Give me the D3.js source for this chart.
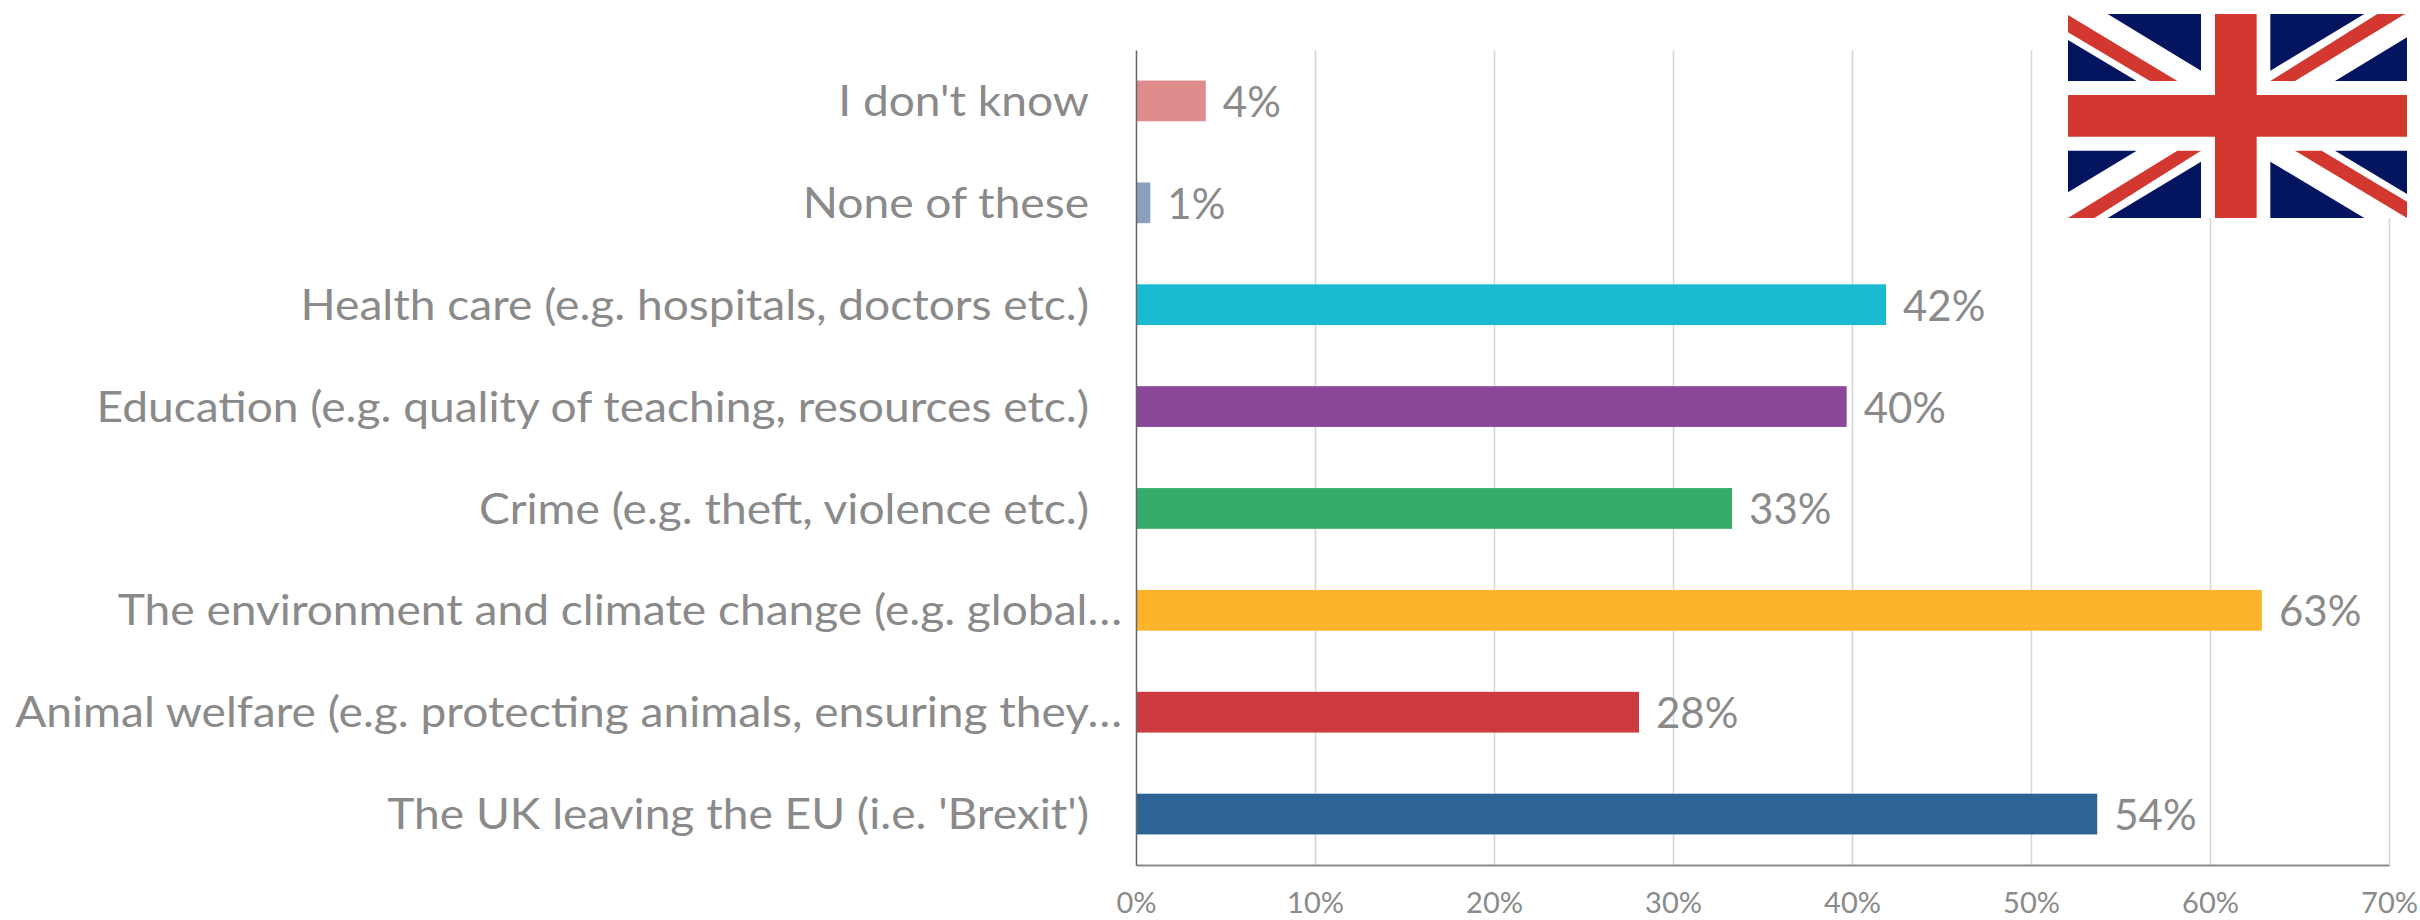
<!DOCTYPE html>
<html>
<head>
<meta charset="utf-8">
<title>UK concerns</title>
<script src="https://cdnjs.cloudflare.com/ajax/libs/d3/7.8.5/d3.min.js"></script>
<style>
  html, body { margin: 0; padding: 0; background: #fff; }
  svg { display: block; }
  text { font-family: Lato, "Open Sans", sans-serif; fill: #8a8a8a; }
</style>
</head>
<body>
<svg class="chart" width="2420" height="920"></svg>
<script>
/* Data, top row first */
var categories = [
  "I don't know",
  "None of these",
  "Health care (e.g. hospitals, doctors etc.)",
  "Education (e.g. quality of teaching, resources etc.)",
  "Crime (e.g. theft, violence etc.)",
  "The environment and climate change (e.g. global…",
  "Animal welfare (e.g. protecting animals, ensuring they…",
  "The UK leaving the EU (i.e. 'Brexit')"
];
var percents = [3.9, 0.8, 41.9, 39.7, 33.3, 62.9, 28.1, 53.7];
var barColors = ["#de8d8c", "#8b9fbf", "#1abbd1", "#8a4699", "#36ac6a", "#fdb42b", "#ce3b3e", "#2c6496"];
var xTicks = [0, 10, 20, 30, 40, 50, 60, 70];

var svg = d3.select(".chart"),
    margin = {top: 50, right: 31, bottom: 55, left: 1136},
    width = +svg.attr("width") - margin.left - margin.right,
    height = +svg.attr("height") - margin.top - margin.bottom;

var x = d3.scaleLinear().domain([0, 70]).range([0, width]),
    y = d3.scaleBand().domain(categories).range([0, height]).paddingInner(0.6).paddingOuter(0.3);

/* the reference labels are a stretched Calibri, Lato needs widening to match */
var labelStretch = 1.098;

var g = svg.append("g")
    .attr("transform", "translate(" + margin.left + "," + margin.top + ")");

/* gridlines go under the bars */
g.append("g")
    .attr("class", "grid")
    .attr("transform", "translate(0," + height + ")")
    .call(d3.axisBottom(x).tickValues(xTicks.slice(1)).tickSize(-height).tickFormat(""))
    .call(function(s) {
      s.select(".domain").remove();
      s.selectAll("line").attr("stroke", "#d6d6d6").attr("stroke-width", 1.5);
    });

g.selectAll(".bar")
    .data(categories)
    .enter().append("rect")
      .attr("class", "bar")
      .attr("x", 0)
      .attr("y", function(d) { return y(d); })
      .attr("width", function(d, i) { return x(percents[i]); })
      .attr("height", y.bandwidth())
      .attr("fill", function(d, i) { return barColors[i]; });

g.selectAll(".value")
    .data(categories)
    .enter().append("text")
      .attr("class", "value")
      .attr("x", function(d, i) { return x(percents[i]) + 17; })
      .attr("y", function(d) { return y(d) + y.bandwidth() / 2; })
      .attr("dy", "0.38em")
      .style("font-size", "42px")
      .text(function(d, i) { return Math.round(percents[i]) + "%"; });

/* x axis */
g.append("g")
    .attr("class", "axis axis--x")
    .attr("transform", "translate(0," + height + ")")
    .call(d3.axisBottom(x).tickValues(xTicks).tickSize(0).tickPadding(27).tickFormat(function(d) { return d + "%"; }))
    .call(function(s) {
      s.select(".domain").attr("stroke", "#8a8a8a").attr("stroke-width", 2);
      s.selectAll("text").style("font-size", "29px").attr("fill", null);
    });

/* y axis, the two cut off labels sit closer to the axis */
g.append("g")
    .attr("class", "axis axis--y")
    .call(d3.axisLeft(y).tickSize(0))
    .call(function(s) {
      s.select(".domain").attr("stroke", "#666").attr("stroke-width", 1.5);
      s.selectAll("text")
        .style("font-size", "42px")
        .attr("fill", null)
        .attr("dy", "0.36em")
        .attr("x", function(d) { return (d.slice(-1) == "…" ? -14 : -47) / labelStretch; })
        .attr("transform", "scale(" + labelStretch + ",1)");
    });

/* flag, corners measured on a 3x grid of the top right corner */
var flagBlue = [
  [[203,42],[483,42],[483,212]], [[84,120],[84,243],[290,243]],
  [[691,42],[973,42],[691,212]], [[1101,112],[1101,243],[885,243]],
  [[84,452],[290,452],[84,577]], [[203,654],[483,654],[483,485]],
  [[885,452],[1101,452],[1101,582]], [[691,485],[691,654],[973,654]]
];
var flagRed = [
  [[84,45],[84,97],[330,243],[412,243]],
  [[1012,42],[1095,42],[765,243],[691,243]],
  [[412,452],[483,452],[163,654],[84,654]],
  [[765,452],[845,452],[1101,605],[1101,654]],
  [[525,42],[650,42],[650,654],[525,654]],
  [[84,285],[1101,285],[1101,410],[84,410]]
];
var flag = svg.append("g").attr("transform", "translate(2040,0) scale(0.33333)");
flag.append("rect").attr("x", 84).attr("y", 42).attr("width", 1017).attr("height", 612).attr("fill", "#fff");
flag.selectAll(".blue").data(flagBlue).enter().append("polygon")
    .attr("class", "blue").attr("fill", "#04155f")
    .attr("points", function(d) { return d.join(" "); });
flag.selectAll(".red").data(flagRed).enter().append("polygon")
    .attr("class", "red").attr("fill", "#d2382f")
    .attr("points", function(d) { return d.join(" "); });
</script>
</body>
</html>
